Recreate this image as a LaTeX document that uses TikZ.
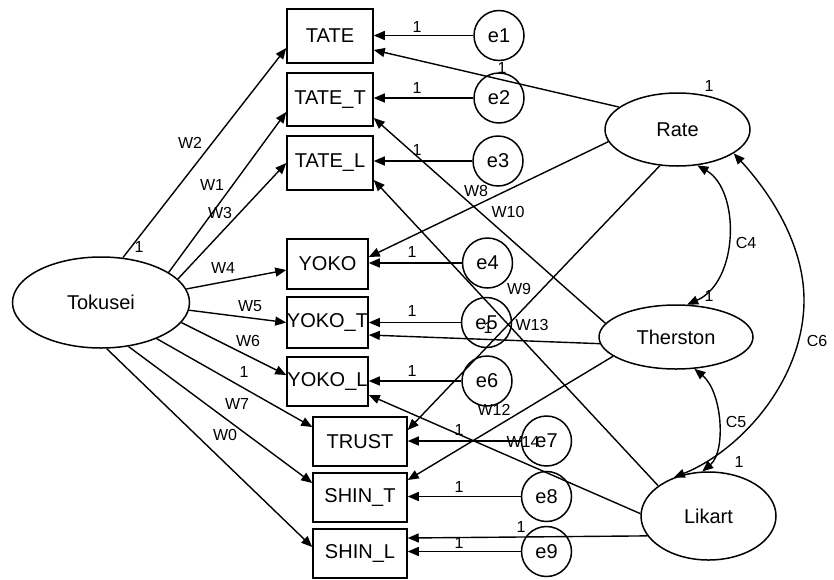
\documentclass[tikz,border=0pt]{standalone}
\usepackage{fontspec}
\setmainfont{Liberation Sans}
\usetikzlibrary{shapes.geometric,arrows.meta}

\newcommand{\varfont}{\fontsize{20}{22}\selectfont}
\newcommand{\coeffont}{\fontsize{16}{17}\selectfont}

\tikzset{
  observed/.style={draw, rectangle, line width=1.5pt, inner sep=0pt,
    minimum width=86pt, minimum height=54pt, font=\varfont},
  latent/.style={draw, ellipse, line width=1.5pt, inner sep=0pt, font=\varfont},
  err/.style={draw, circle, line width=1.5pt, inner sep=0pt,
    minimum size=50pt, font=\varfont},
  regr/.style={line width=1.4pt, -{Triangle[length=11pt,width=9pt]}},
  cov/.style={line width=1.4pt,
    {Triangle[length=11pt,width=9pt]}-{Triangle[length=11pt,width=9pt]}},
  coef/.style={inner sep=0pt, font=\coeffont}
}

\begin{document}
\begin{tikzpicture}[x=1pt, y=-1pt]
  \useasboundingbox (0,0) rectangle (834,579);

  % latent variables
  \node[latent, minimum width=177pt, minimum height=91pt] (tok) at (101,302.5) {Tokusei};
  \node[latent, minimum width=145pt, minimum height=73pt] (rate) at (677.5,129.5) {Rate};
  \node[latent, minimum width=154pt, minimum height=64pt] (ther) at (676,337) {Therston};
  \node[latent, minimum width=135pt, minimum height=88pt] (lik) at (708.5,516) {Likart};

  % observed variables
  \node[observed] (tate)  at (330,36)    {TATE};
  \node[observed, minimum height=53pt] (tatet) at (330,99.5) {TATE\_T};
  \node[observed] (tatel) at (330,163)   {TATE\_L};
  \node[observed, minimum width=81pt, minimum height=50pt] (yoko)  at (327.5,264)   {YOKO};
  \node[observed, minimum width=81pt, minimum height=51pt] (yokot) at (327.5,322.5) {YOKO\_T};
  \node[observed, minimum width=81pt, minimum height=49pt] (yokol) at (327.5,381.5) {YOKO\_L};
  \node[observed, minimum width=94pt, minimum height=49pt] (trust) at (360,441.5) {TRUST};
  \node[observed, minimum width=94pt, minimum height=49pt] (shint) at (360,497.5) {SHIN\_T};
  \node[observed, minimum width=94pt, minimum height=49pt] (shinl) at (360,553.5) {SHIN\_L};

  % error terms
  \node[err] (e1) at (499,35.5)  {e1};
  \node[err] (e2) at (499,98)    {e2};
  \node[err] (e3) at (498,161)   {e3};
  \node[err] (e4) at (487.5,263) {e4};
  \node[err] (e5) at (486.5,322.5) {e5};
  \node[err] (e6) at (487,381)   {e6};
  \node[err] (e7) at (546.5,441) {e7};
  \node[err] (e8) at (546.5,496.5) {e8};
  \node[err] (e9) at (546.5,551.5) {e9};

  % Tokusei paths
  \draw[regr] (tok.64)  -- ([yshift=-12pt]tate.west);
  \draw[regr] (tok.24)  -- ([yshift=-12.5pt]tatet.west);
  \draw[regr] (tok.17)  -- (tatel.west);
  \draw[regr] (tok.9)   -- ([yshift=-6pt]yoko.west);
  \draw[regr] (tok.-5)  -- (yokot.west);
  \draw[regr] (tok.-14) -- ([yshift=6.5pt]yokol.west);
  \draw[regr] (tok.-33) -- ([yshift=14.5pt]trust.west);
  \draw[regr] (tok.-58) -- ([yshift=14.5pt]shint.west);
  \draw[regr] (tok.-83) -- ([yshift=6.5pt]shinl.west);

  % method factors
  \draw[regr] (rate.159) -- ([yshift=-14pt]tate.east);
  \draw[regr] (rate.190) -- ([yshift=7pt]yoko.east);
  \draw[regr] (rate.244) -- ([yshift=11.5pt]trust.east);
  \draw[regr] (ther.169) -- ([yshift=-18.5pt]tatet.east);
  \draw[regr] (ther.185) -- ([yshift=-12.5pt]yokot.east);
  \draw[regr] (ther.197) -- ([yshift=17.5pt]shint.east);
  \draw[regr] (lik.149)  -- ([yshift=-17pt]tatel.east);
  \draw[regr] (lik.178)  -- ([yshift=-13.5pt]yokol.east);
  \draw[regr] (lik.198)  -- ([yshift=15.5pt]shinl.east);

  % errors
  \draw[regr] (e1.west) -- (e1.west -| tate.east);
  \draw[regr] (e2.west) -- (e2.west -| tatet.east);
  \draw[regr] (e3.west) -- (e3.west -| tatel.east);
  \draw[regr] (e4.west) -- (e4.west -| yoko.east);
  \draw[regr] (e5.west) -- (e5.west -| yokot.east);
  \draw[regr] (e6.west) -- (e6.west -| yokol.east);
  \draw[regr] (e7.west) -- (e7.west -| trust.east);
  \draw[regr] (e8.west) -- (e8.west -| shint.east);
  \draw[regr] (e9.west) -- (e9.west -| shinl.east);

  % covariances
  \draw[cov] (rate.-61) .. controls +(43,25) and +(52,-23) .. (ther.71);
  \draw[cov] (ther.-60) .. controls +(28,23) and +(24,-20) .. (lik.98);
  \draw[cov] (rate.-23) .. controls +(37,40) and +(0,-55) .. (804,300)
    .. controls +(0,80) and +(67,-27) .. (lik.132);

  % weights
  \node[coef] at (139,247) {1};
  \node[coef] at (190,143) {W2};
  \node[coef] at (212,185) {W1};
  \node[coef] at (220,213) {W3};
  \node[coef] at (223,268) {W4};
  \node[coef] at (250,306) {W5};
  \node[coef] at (248,341) {W6};
  \node[coef] at (244,372) {1};
  \node[coef] at (237,404) {W7};
  \node[coef] at (225,435) {W0};

  \node[coef] at (417,27)  {1};
  \node[coef] at (417,88)  {1};
  \node[coef] at (417,150) {1};
  \node[coef] at (412,252) {1};
  \node[coef] at (412,311) {1};
  \node[coef] at (412,371) {1};
  \node[coef] at (459,430) {1};
  \node[coef] at (459,487) {1};
  \node[coef] at (459,543) {1};

  \node[coef] at (502,68)  {1};
  \node[coef] at (709,86)  {1};
  \node[coef] at (476,191) {W8};
  \node[coef] at (508,212) {W10};
  \node[coef] at (519,289) {W9};
  \node[coef] at (488,328) {1};
  \node[coef] at (532,325) {W13};
  \node[coef] at (709,296) {1};
  \node[coef] at (494,410) {W12};
  \node[coef] at (523,442) {W14};
  \node[coef] at (739,462) {1};
  \node[coef] at (521,527) {1};

  \node[coef] at (746,243) {C4};
  \node[coef] at (736,422) {C5};
  \node[coef] at (817,341) {C6};
\end{tikzpicture}
\end{document}
